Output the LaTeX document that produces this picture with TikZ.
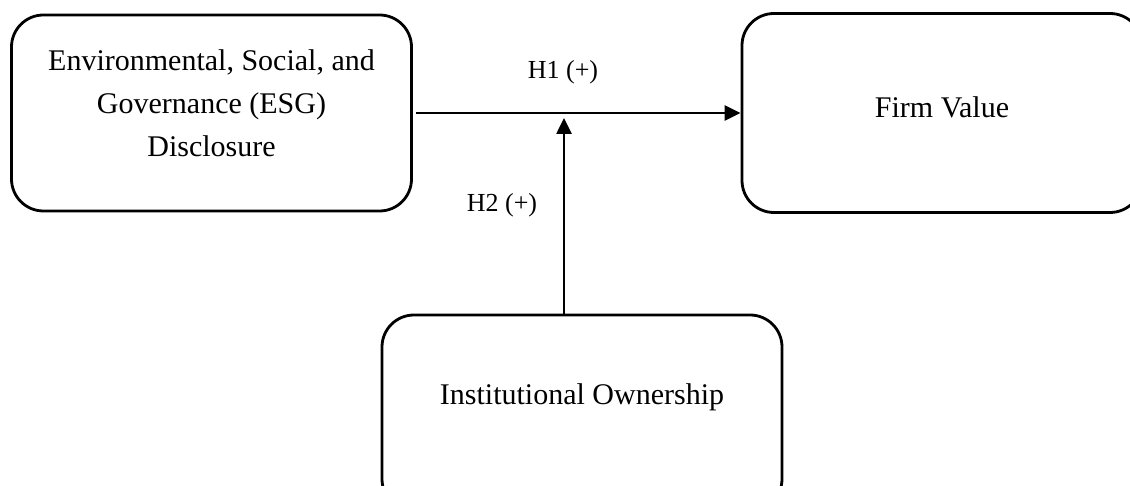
\documentclass[tikz,border=0pt]{standalone}
\usepackage{fontspec}
\setmainfont{Liberation Serif}
\usetikzlibrary{arrows.meta,positioning}

\tikzset{
  varbox/.style={draw,line width=2.8pt,rounded corners=32pt,minimum width=400pt,minimum height=196pt},
  vartext/.style={align=center,font=\fontsize{30}{43}\selectfont},
  hyp/.style={font=\fontsize{26}{32}\selectfont},
  effect/.style={line width=2.6pt,-{Triangle[length=16pt,width=15pt]}}
}

\begin{document}
\begin{tikzpicture}[x=1pt,y=-1pt,on grid,node distance=300pt]
 \useasboundingbox (0,0) rectangle (1130,486);
 \clip (0,0) rectangle (1130,486);
 % boxes
 \node[varbox] (esg) at (211.5,113) {};
 \node[varbox,minimum height=199pt] (fv) [right=730.5pt of esg] {};
 \node[varbox] (io) [below right=300pt and 370.5pt of esg] {};
 \node[vartext] (esg_t) at ([yshift=10pt]esg.center) {Environmental, Social, and\\Governance (ESG)\\Disclosure};
 \node[vartext] (fv_t) at ([yshift=6pt]fv.center) {Firm Value};
 \node[vartext] (io_t) at ([yshift=16pt]io.center) {Institutional Ownership};
 % hypotheses
 \coordinate (meet) at (564,114);
 \draw[effect] ([xshift=3pt]esg.east) -- (fv.west);
 \draw[effect,shorten >=4pt] (io.north -| meet) -- (meet);
 \node[hyp] (h1) at (563,72) {H1 (+)};
 \node[hyp] (h2) at (502,205) {H2 (+)};
\end{tikzpicture}
\end{document}
